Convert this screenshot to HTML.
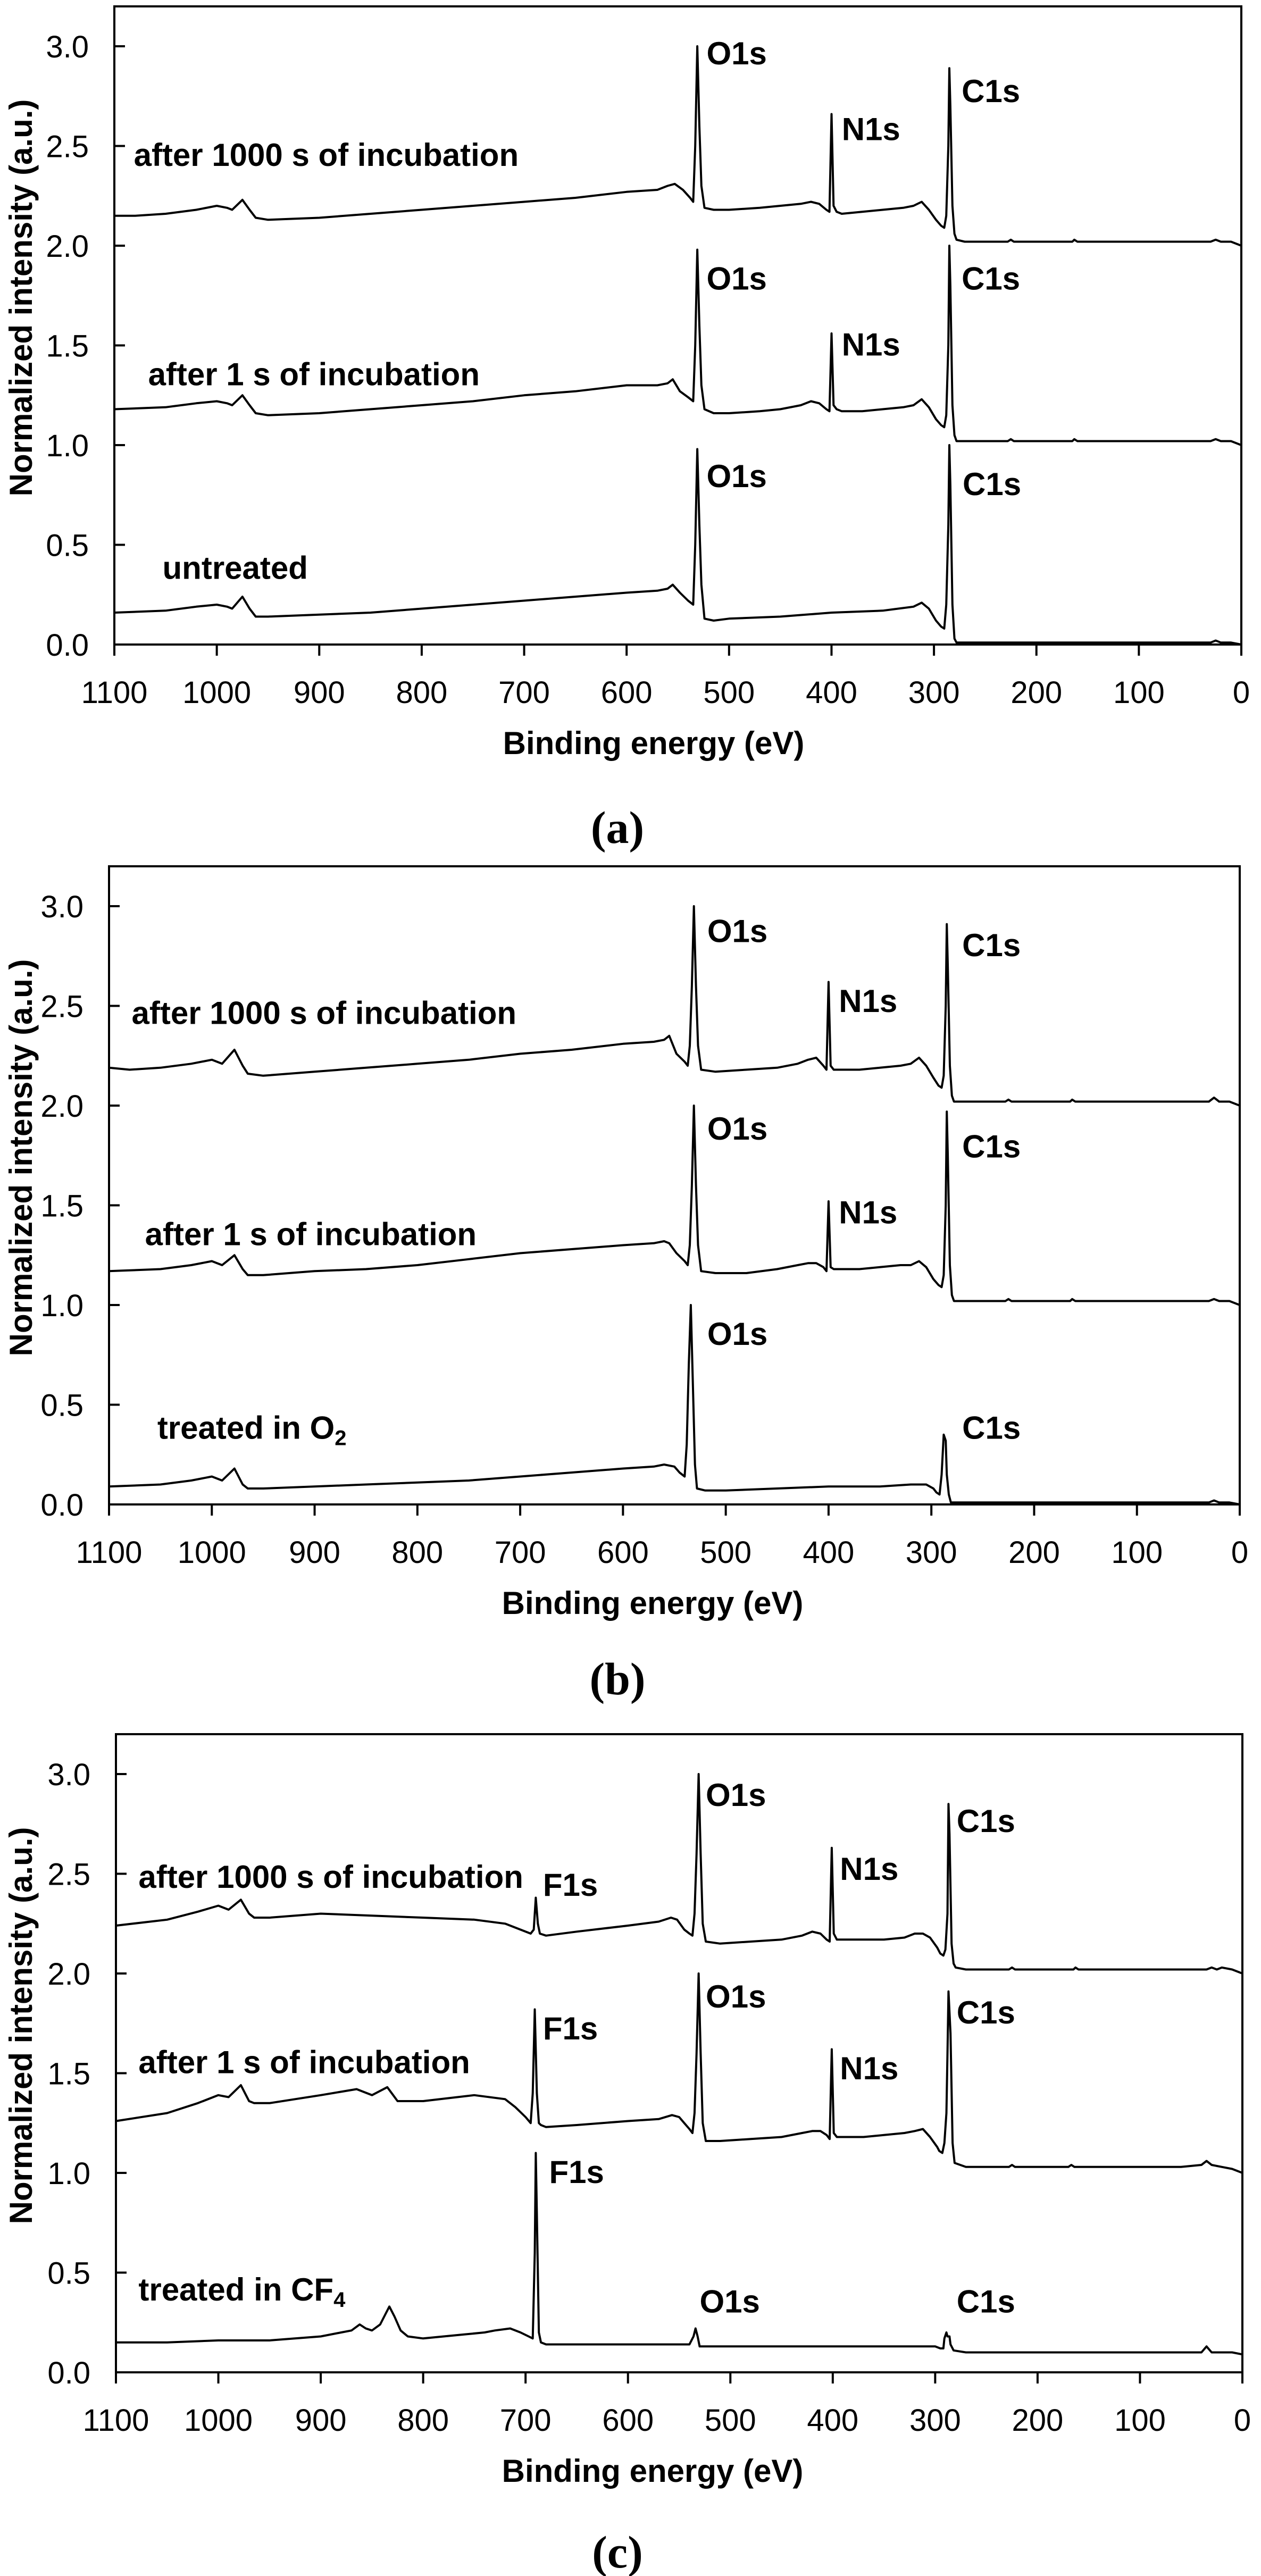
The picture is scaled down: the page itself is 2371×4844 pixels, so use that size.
<!DOCTYPE html>
<html><head><meta charset="utf-8">
<style>
html,body{margin:0;padding:0;background:#fff;}
svg{display:block;}
text{font-family:"Liberation Sans",Arial,sans-serif;fill:#000;}
.tick{font-size:58px;}
.lab{font-size:60px;font-weight:bold;}
.cap{font-family:"Liberation Serif",serif;font-size:86px;font-weight:bold;}
</style></head>
<body>
<svg id="fig" width="2371" height="4844" viewBox="0 0 2371 4844" xmlns="http://www.w3.org/2000/svg"></svg>
<script>
// ---- data (binding energy eV, normalized intensity) ----
const xTicks=[1100,1000,900,800,700,600,500,400,300,200,100,0];
const yTicks=[0.0,0.5,1.0,1.5,2.0,2.5,3.0];
const yTickLabels=["0.0","0.5","1.0","1.5","2.0","2.5","3.0"];
const xTickLabels=["1100","1000","900","800","700","600","500","400","300","200","100","0"];

// panel a
const a3E=[1100,1080,1050,1020,1000,990,985,975,968,962,950,900,850,800,750,700,650,600,570,560,553,545,538,535,533,531,529,527,524,515,500,470,450,430,420,412,405,402,400,398,395,390,370,350,330,320,312,305,298,293,290,288,286,285,284,282,280,278,270,250,228,225,222,200,165,163,160,100,60,30,25,20,10,0];
const a3V=[2.15,2.15,2.16,2.18,2.20,2.19,2.18,2.23,2.18,2.14,2.13,2.14,2.16,2.18,2.20,2.22,2.24,2.27,2.28,2.30,2.31,2.28,2.24,2.22,2.50,3.00,2.60,2.30,2.19,2.18,2.18,2.19,2.20,2.21,2.22,2.21,2.18,2.17,2.66,2.20,2.17,2.16,2.17,2.18,2.19,2.20,2.22,2.18,2.13,2.10,2.09,2.15,2.50,2.89,2.70,2.20,2.06,2.03,2.02,2.02,2.02,2.03,2.02,2.02,2.02,2.03,2.02,2.02,2.02,2.02,2.03,2.02,2.02,2.00];
const a2E=[1100,1050,1020,1000,990,985,975,968,962,950,900,850,800,750,700,650,600,570,560,555,548,540,535,533,531,529,527,524,515,500,470,450,430,420,412,405,402,400,398,395,390,370,350,330,320,312,305,298,293,290,288,286,285,284,282,280,278,270,250,228,225,222,200,165,163,160,100,60,30,25,20,10,0];
const a2V=[1.18,1.19,1.21,1.22,1.21,1.20,1.25,1.20,1.16,1.15,1.16,1.18,1.20,1.22,1.25,1.27,1.30,1.30,1.31,1.33,1.27,1.24,1.22,1.50,1.98,1.60,1.30,1.18,1.16,1.16,1.17,1.18,1.20,1.22,1.21,1.18,1.17,1.56,1.20,1.18,1.17,1.17,1.18,1.19,1.20,1.23,1.19,1.13,1.10,1.09,1.15,1.50,2.00,1.80,1.20,1.05,1.02,1.02,1.02,1.02,1.03,1.02,1.02,1.02,1.03,1.02,1.02,1.02,1.02,1.03,1.02,1.02,1.00];
const a1E=[1100,1050,1020,1000,990,985,975,968,962,950,900,850,800,750,700,650,600,570,560,555,548,540,535,533,531,529,527,524,515,500,450,400,350,320,312,305,298,293,290,288,286,285,284,282,280,278,270,200,100,30,25,20,10,0];
const a1V=[0.16,0.17,0.19,0.20,0.19,0.18,0.24,0.18,0.14,0.14,0.15,0.16,0.18,0.20,0.22,0.24,0.26,0.27,0.28,0.30,0.26,0.22,0.20,0.50,0.98,0.60,0.30,0.13,0.12,0.13,0.14,0.16,0.17,0.19,0.21,0.18,0.12,0.09,0.08,0.20,0.60,1.00,0.80,0.20,0.03,0.01,0.01,0.01,0.01,0.01,0.02,0.01,0.01,0.00];

// panel b
const b3E=[1100,1080,1050,1020,1000,990,978,970,965,950,900,850,800,750,700,650,600,570,560,555,548,540,537,535,533,531,529,527,524,510,480,450,430,420,412,405,402,400,398,395,390,370,350,330,320,312,305,298,293,290,288,286,285,284,282,280,278,270,250,228,225,222,200,165,163,160,100,60,30,25,20,10,0];
const b3V=[2.19,2.18,2.19,2.21,2.23,2.21,2.28,2.20,2.16,2.15,2.17,2.19,2.21,2.23,2.26,2.28,2.31,2.32,2.33,2.35,2.26,2.22,2.20,2.30,2.60,3.00,2.60,2.30,2.18,2.17,2.18,2.19,2.21,2.23,2.24,2.20,2.18,2.62,2.20,2.18,2.18,2.18,2.19,2.20,2.21,2.24,2.20,2.14,2.10,2.09,2.15,2.50,2.91,2.70,2.20,2.05,2.02,2.02,2.02,2.02,2.03,2.02,2.02,2.02,2.03,2.02,2.02,2.02,2.02,2.04,2.02,2.02,2.00];
const b2E=[1100,1050,1020,1000,990,978,970,965,950,900,850,800,750,700,650,600,570,560,555,548,540,537,535,533,531,529,527,524,510,480,450,430,420,412,405,402,400,398,395,390,370,350,330,320,312,305,298,293,290,288,286,285,284,282,280,278,270,250,228,225,222,200,165,163,160,100,60,30,25,20,10,0];
const b2V=[1.17,1.18,1.20,1.22,1.20,1.25,1.18,1.15,1.15,1.17,1.18,1.20,1.23,1.26,1.28,1.30,1.31,1.32,1.31,1.26,1.22,1.20,1.30,1.60,2.00,1.60,1.30,1.17,1.16,1.16,1.18,1.20,1.21,1.21,1.19,1.17,1.52,1.19,1.18,1.18,1.18,1.19,1.20,1.20,1.22,1.19,1.13,1.10,1.09,1.15,1.50,1.97,1.75,1.20,1.05,1.02,1.02,1.02,1.02,1.03,1.02,1.02,1.02,1.03,1.02,1.02,1.02,1.02,1.03,1.02,1.02,1.00];
const b1E=[1100,1050,1020,1000,990,978,970,965,950,900,850,800,750,700,650,600,570,560,550,545,540,538,536,534,532,530,528,520,500,450,400,350,320,305,298,295,292,290,288,286,285,283,281,270,200,100,30,25,20,10,0];
const b1V=[0.09,0.10,0.12,0.14,0.12,0.18,0.10,0.08,0.08,0.09,0.10,0.11,0.12,0.14,0.16,0.18,0.19,0.20,0.19,0.16,0.14,0.30,0.70,1.00,0.60,0.20,0.08,0.07,0.07,0.08,0.09,0.09,0.10,0.10,0.08,0.06,0.05,0.15,0.35,0.32,0.15,0.05,0.01,0.01,0.01,0.01,0.01,0.02,0.01,0.01,0.00];

// panel c
const c3E=[1100,1050,1020,1000,990,978,970,965,950,900,850,800,750,720,705,695,692,690,688,686,680,650,600,570,558,552,545,540,537,535,533,531,529,527,524,510,480,450,430,420,412,406,403,401,399,396,390,370,350,330,320,312,305,298,295,292,290,288,287,286,284,282,280,270,250,228,225,222,200,165,163,160,100,60,35,30,25,20,10,0];
const c3V=[2.24,2.27,2.31,2.34,2.32,2.37,2.30,2.28,2.28,2.30,2.29,2.28,2.27,2.25,2.22,2.20,2.22,2.38,2.25,2.20,2.19,2.21,2.24,2.26,2.28,2.27,2.22,2.20,2.19,2.30,2.60,3.00,2.60,2.25,2.16,2.15,2.16,2.17,2.19,2.21,2.20,2.17,2.16,2.63,2.20,2.17,2.17,2.17,2.17,2.18,2.20,2.20,2.18,2.13,2.10,2.09,2.12,2.30,2.85,2.70,2.15,2.05,2.03,2.02,2.02,2.02,2.03,2.02,2.02,2.02,2.03,2.02,2.02,2.02,2.02,2.03,2.02,2.03,2.02,2.00];
const c2E=[1100,1050,1020,1000,990,978,970,965,950,900,865,850,835,825,800,750,720,710,700,695,693,691,689,687,685,680,650,600,570,557,550,545,540,537,535,533,531,529,527,524,510,480,450,430,420,412,406,403,401,399,396,390,370,350,330,320,312,305,298,296,293,291,289,288,287,285,283,281,270,250,228,225,222,200,170,167,164,100,60,40,35,30,20,10,0];
const c2V=[1.26,1.30,1.35,1.39,1.38,1.44,1.36,1.35,1.35,1.39,1.42,1.39,1.43,1.36,1.36,1.39,1.37,1.33,1.28,1.25,1.40,1.82,1.40,1.25,1.24,1.23,1.24,1.26,1.27,1.29,1.28,1.25,1.22,1.20,1.30,1.60,2.00,1.60,1.25,1.16,1.16,1.17,1.18,1.20,1.21,1.21,1.19,1.17,1.62,1.20,1.18,1.18,1.18,1.19,1.20,1.21,1.22,1.18,1.13,1.11,1.10,1.15,1.30,1.60,1.91,1.70,1.15,1.05,1.03,1.03,1.03,1.04,1.03,1.03,1.03,1.04,1.03,1.03,1.03,1.04,1.06,1.04,1.03,1.02,1.00];
const c1E=[1100,1050,1000,975,950,900,880,870,862,856,850,842,836,833,828,822,815,800,780,760,740,730,715,705,697,693,691,690,689,687,685,680,650,600,560,540,536,534,532,530,520,450,400,350,310,300,295,292,291,289,288,286,285,282,270,200,100,40,35,30,20,10,0];
const c1V=[0.15,0.15,0.16,0.16,0.16,0.18,0.20,0.21,0.24,0.22,0.21,0.24,0.30,0.33,0.28,0.21,0.18,0.17,0.18,0.19,0.20,0.21,0.22,0.20,0.18,0.17,0.60,1.10,0.80,0.20,0.15,0.14,0.14,0.14,0.14,0.14,0.18,0.22,0.18,0.13,0.13,0.13,0.13,0.13,0.13,0.13,0.12,0.12,0.17,0.20,0.18,0.18,0.14,0.11,0.10,0.10,0.10,0.10,0.13,0.10,0.10,0.10,0.09];

// ---- rendering ----
const NS="http://www.w3.org/2000/svg";
const svg=document.getElementById('fig');
function mk(tag,attrs,parent){const e=document.createElementNS(NS,tag);for(const k in attrs)e.setAttribute(k,attrs[k]);(parent||svg).appendChild(e);return e;}

const panels=[
 {id:'a',L:215,R:2334,T:12,B:1212,xl:1229,cap:'a',capY:1585,
  series:[[a1E,a1V,'untreated'],[a2E,a2V,'1s'],[a3E,a3V,'1000s']],
  labels:[['O1s',522,2.91],['N1s',390,2.53],['C1s',273,2.72],['after 1000 s of incubation',1081,2.40],
          ['O1s',522,1.78],['N1s',390,1.45],['C1s',273,1.78],['after 1 s of incubation',1067,1.30],
          ['O1s',522,0.79],['C1s',272,0.75],['untreated',1053,0.33]]},
 {id:'b',L:205,R:2331,T:1629,B:2829,xl:1227,cap:'b',capY:3186,
  series:[[b1E,b1V,'o2'],[b2E,b2V,'1s'],[b3E,b3V,'1000s']],
  labels:[['O1s',518,2.82],['N1s',390,2.47],['C1s',270,2.75],['after 1000 s of incubation',1078,2.41],
          ['O1s',518,1.83],['N1s',390,1.41],['C1s',270,1.74],['after 1 s of incubation',1065,1.30],
          ['O1s',518,0.80],['C1s',270,0.33],['treated in O|2',1053,0.33]]},
 {id:'c',L:218,R:2336,T:3261,B:4461,xl:1227,cap:'c',capY:4828,
  series:[[c1E,c1V,'cf4'],[c2E,c2V,'1s'],[c3E,c3V,'1000s']],
  labels:[['O1s',524,2.84],['N1s',393,2.47],['C1s',279,2.71],['F1s',683,2.39],['after 1000 s of incubation',1078,2.43],
          ['O1s',524,1.83],['N1s',393,1.47],['C1s',279,1.75],['F1s',683,1.67],['after 1 s of incubation',1078,1.50],
          ['F1s',677,0.95],['O1s',530,0.30],['C1s',279,0.30],['treated in CF|4',1078,0.36]]}
];

panels.forEach(p=>{
  const g=mk('g',{});
  
  
  const U=(p.B-p.T)/3.2;
  const xs=e=>p.R-(e/1100)*(p.R-p.L);
  const ys=v=>p.B-v*U;
  p.series.forEach(s=>{
    const [E,V,nm]=s;
    const pts=E.map((e,i)=>xs(e).toFixed(1)+','+ys(V[i]).toFixed(1)).join(' ');
    const pl=mk('polyline',{points:pts,fill:'none',stroke:'#000','stroke-width':4,'stroke-linejoin':'round'},g);
    
    
  });
  const fr=mk('rect',{x:p.L,y:p.T,width:p.R-p.L,height:p.B-p.T,fill:'none',stroke:'#000','stroke-width':4},g);
  
  
  xTicks.forEach((t,i)=>{
    const x=xs(t);
    mk('line',{x1:x,y1:p.B,x2:x,y2:p.B+21,stroke:'#000','stroke-width':4},g);
    const tx=mk('text',{x:x,y:p.B+110,'text-anchor':'middle',class:'tick'},g);
    tx.textContent=xTickLabels[i];
    
    
  });
  yTicks.forEach((t,i)=>{
    const y=ys(t);
    mk('line',{x1:p.L,y1:y,x2:p.L+20,y2:y,stroke:'#000','stroke-width':4},g);
    const tx=mk('text',{x:p.L-48,y:y+21,'text-anchor':'end',class:'tick'},g);
    tx.textContent=yTickLabels[i];
    
    
  });
  p.labels.forEach(l=>{
    const tx=mk('text',{x:xs(l[1]),y:ys(l[2]),class:'lab'},g);
    const parts=l[0].split('|');
    tx.appendChild(document.createTextNode(parts[0]));
    if(parts[1]){const sub=mk('tspan',{'font-size':'40','dy':'12'},tx);sub.textContent=parts[1];}
    
    
  });
  const xt=mk('text',{x:p.xl,y:p.B+206,'text-anchor':'middle',class:'lab'},g);
  xt.textContent='Binding energy (eV)';
  
  
  const cy=(p.T+p.B)/2-52;
  const yt=mk('text',{x:0,y:0,'text-anchor':'middle',class:'lab',transform:'translate(60,'+cy+') rotate(-90)'},g);
  yt.textContent='Normalized intensity (a.u.)';
  
  
  const cp=mk('text',{x:1161,y:p.capY,'text-anchor':'middle',class:'cap'},g);
  cp.textContent='('+p.cap+')';
  
  
});
</script>
</body></html>
